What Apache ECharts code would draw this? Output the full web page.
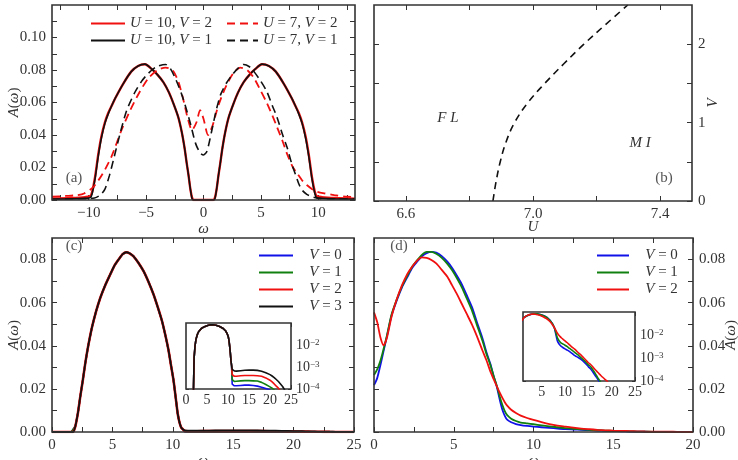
<!DOCTYPE html>
<html><head><meta charset="utf-8">
<script src="https://cdn.jsdelivr.net/npm/echarts@6/dist/echarts.min.js"></script>
<style>html,body{margin:0;padding:0;background:#fff}#c{width:738px;height:460px}</style>
</head><body><div id="c"></div><script>
// ---------- Panel (a): A(omega) for U=10 / U=7 ----------
const aW10 = [-13.2,-11.5,-10.3,-9.85,-9.7,-9.45,-9.17,-8.9,-8.6,-8.3,-8.0,-7.7,-7.0,-6.3,-5.7,-5.1,-4.5,-4.0,-3.5,-3.0,-2.6,-2.2,-1.9,-1.65,-1.45,-1.3,-1.15,-1.0,-0.87,-0.5,0,0.5,0.87,1.0,1.15,1.3,1.45,1.65,1.9,2.2,2.6,3.0,3.5,4.0,4.5,5.1,5.7,6.3,7.0,7.7,8.0,8.3,8.6,8.9,9.17,9.45,9.7,9.85,10.3,11.5,13.2];
const aU10V1 = [0.0005,0.0007,0.001,0.0015,0.004,0.013,0.027,0.038,0.047,0.053,0.058,0.0625,0.0715,0.079,0.0825,0.0836,0.0805,0.077,0.0725,0.066,0.059,0.051,0.042,0.032,0.022,0.015,0.007,0.001,0,0,0,0,0,0.001,0.007,0.015,0.022,0.032,0.042,0.051,0.059,0.066,0.0725,0.077,0.0805,0.0836,0.0825,0.079,0.0715,0.0625,0.058,0.053,0.047,0.038,0.027,0.013,0.004,0.0015,0.001,0.0007,0.0005];
const aU10V2 = [0.0008,0.0012,0.0018,0.0025,0.005,0.014,0.028,0.039,0.0475,0.0535,0.058,0.0625,0.0715,0.079,0.0825,0.0835,0.0805,0.077,0.0725,0.066,0.059,0.051,0.042,0.032,0.022,0.015,0.007,0.0015,0,0,0,0,0,0.0015,0.007,0.015,0.022,0.032,0.042,0.051,0.059,0.066,0.0725,0.077,0.0805,0.0835,0.0825,0.079,0.0715,0.0625,0.058,0.0535,0.0475,0.039,0.028,0.014,0.005,0.0025,0.0018,0.0012,0.0008];
const aW7V1 = [-13.2,-11,-9.5,-9.0,-8.6,-8.2,-7.8,-7.3,-6.7,-6.0,-5.4,-4.8,-4.1,-3.3,-2.9,-2.4,-1.9,-1.5,-1.1,-0.7,-0.3,0,0.3,0.7,1.1,1.5,2.0,2.5,3.0,3.5,4.0,4.4,5.0,5.5,6.0,6.4,6.9,7.3,7.7,8.0,8.3,8.6,9.0,9.4,10,11,13.2];
const aU7V1 = [0.0005,0.0008,0.0012,0.003,0.0065,0.015,0.026,0.040,0.055,0.066,0.073,0.078,0.082,0.0834,0.081,0.074,0.065,0.056,0.046,0.035,0.029,0.0277,0.030,0.042,0.055,0.065,0.072,0.077,0.081,0.0834,0.082,0.079,0.073,0.067,0.058,0.051,0.040,0.032,0.022,0.016,0.010,0.006,0.0035,0.0022,0.001,0.0007,0.0005];
const aW7V2 = [-13.2,-12,-11,-10.4,-9.6,-8.8,-8.0,-7.2,-6.4,-5.6,-4.8,-4.0,-3.3,-2.7,-2.2,-1.8,-1.4,-1.0,-0.6,-0.3,0.0,0.4,0.8,1.2,1.6,2.1,2.6,3.2,3.8,4.4,5.0,5.5,6.0,6.4,6.9,7.3,7.8,8.2,8.6,9.0,9.5,9.9,10.6,11.4,12.5,13.2];
const aU7V2 = [0.002,0.0025,0.003,0.004,0.008,0.016,0.027,0.042,0.055,0.066,0.075,0.080,0.0815,0.080,0.073,0.063,0.051,0.043,0.048,0.0553,0.050,0.040,0.046,0.056,0.064,0.072,0.078,0.0815,0.080,0.075,0.067,0.060,0.052,0.045,0.036,0.028,0.020,0.016,0.012,0.0092,0.0065,0.0051,0.004,0.003,0.002,0.0018];

// ---------- Panel (b): phase boundary ----------
const bU = [6.874,6.884,6.897,6.915,6.942,6.983,7.037,7.097,7.160,7.228,7.298];
const bV = [0,0.25,0.5,0.75,1.0,1.25,1.5,1.75,2.0,2.25,2.5];

// ---------- Panel (c) ----------
const cW = [0,1.0,1.6,1.75,1.93,2.15,2.34,2.55,2.75,3.0,3.31,3.65,4.0,4.4,4.82,5.15,5.51,5.85,6.15,6.45,6.75,7.15,7.58,8.0,8.4,8.75,9.1,9.4,9.65,9.85,10.06,10.25,10.4,10.55,10.7,10.85,11.0,11.5,12,13,14,15,16,17,18,19,20,20.5,21,21.5,22,22.5,23,23.5,24,25];
const cV0 = [1e-7,1e-7,1e-6,5e-5,0.0026,0.009,0.0164,0.024,0.0317,0.040,0.0486,0.056,0.0623,0.068,0.0731,0.077,0.080,0.0825,0.0834,0.0828,0.0815,0.0785,0.0746,0.0695,0.0639,0.058,0.0516,0.0445,0.0378,0.031,0.024,0.0155,0.0087,0.0045,0.002,0.0012,1.65e-4,1.4e-4,1.4e-4,1.45e-4,1.5e-4,1.5e-4,1.45e-4,1.35e-4,1.2e-4,1.05e-4,9e-5,6e-5,3e-5,1e-5,3e-6,1e-6,1e-7,1e-7,1e-7,1e-7];
const cV1 = [1e-7,1e-7,1e-6,5e-5,0.0026,0.009,0.0164,0.024,0.0317,0.040,0.0486,0.056,0.0623,0.068,0.0731,0.077,0.080,0.0825,0.0834,0.0828,0.0815,0.0785,0.0746,0.0695,0.0639,0.058,0.0516,0.0445,0.0378,0.031,0.024,0.0155,0.0087,0.0045,0.002,0.0012,2.65e-4,2.2e-4,2.25e-4,2.35e-4,2.4e-4,2.4e-4,2.35e-4,2.3e-4,2.0e-4,1.6e-4,1.25e-4,1.1e-4,9e-5,6e-5,3e-5,1e-5,1e-6,1e-7,1e-7,1e-7];
const cV2 = [1e-7,1e-7,1e-6,5e-5,0.0026,0.009,0.0164,0.024,0.0317,0.040,0.0486,0.056,0.0623,0.068,0.0731,0.077,0.080,0.0825,0.0834,0.0828,0.0815,0.0785,0.0746,0.0695,0.0639,0.058,0.0516,0.0445,0.0378,0.031,0.024,0.0155,0.0087,0.0045,0.002,0.0012,4.5e-4,3.8e-4,3.8e-4,4.0e-4,4.1e-4,4.1e-4,4.1e-4,4.0e-4,3.8e-4,3.2e-4,2.5e-4,2.1e-4,1.7e-4,1.35e-4,1.1e-4,8e-5,4e-5,1e-5,1e-6,1e-7];
const cV3 = [1e-7,1e-7,1e-6,5e-5,0.0026,0.009,0.0164,0.024,0.0317,0.040,0.0486,0.056,0.0623,0.068,0.0731,0.077,0.080,0.0825,0.0834,0.0828,0.0815,0.0785,0.0746,0.0695,0.0639,0.058,0.0516,0.0445,0.0378,0.031,0.024,0.0155,0.0087,0.0045,0.002,0.0012,7.8e-4,6.6e-4,6.5e-4,6.8e-4,7.1e-4,7.2e-4,7.2e-4,7.0e-4,6.4e-4,5.5e-4,4.5e-4,3.9e-4,3.3e-4,2.7e-4,2.2e-4,1.7e-4,1.3e-4,9e-5,4e-5,1e-6];

// ---------- Panel (d) ----------
const dW = [0,0.2,0.4,0.6,0.8,1.1,1.4,1.75,2.1,2.4,2.7,3.0,3.3,3.6,3.9,4.25,4.6,4.9,5.2,5.5,5.8,6.15,6.45,6.8,7.05,7.3,7.5,7.7,7.9,8.05,8.2,8.35,8.6,8.9,9.2,9.6,10,10.5,11,11.5,12,12.5,13,13.5,14,14.5,15,15.5,16,16.5,17,17.5,18,18.5,19,19.5,20];
const dV0 = [0.0217,0.025,0.031,0.0375,0.044,0.054,0.0605,0.067,0.072,0.0762,0.079,0.0815,0.083,0.0836,0.0832,0.0816,0.079,0.0761,0.0725,0.0686,0.0637,0.0578,0.051,0.0435,0.037,0.0315,0.026,0.021,0.0145,0.0103,0.0075,0.0057,0.0045,0.0037,0.0032,0.0028,0.0025,0.0022,0.0019,0.0016,0.0013,0.00115,0.001,0.00085,0.0007,0.00055,0.00042,0.00033,0.00024,0.00017,0.00012,8e-5,5e-5,3e-5,1.5e-5,8e-6,4e-6];
const dV1 = [0.0264,0.029,0.033,0.0385,0.0445,0.0545,0.061,0.0675,0.0727,0.0768,0.0797,0.0822,0.0836,0.0836,0.0827,0.0808,0.078,0.075,0.0713,0.0672,0.0622,0.0562,0.0497,0.0423,0.0362,0.031,0.026,0.0215,0.016,0.0125,0.0097,0.0078,0.0062,0.0051,0.0044,0.004,0.0036,0.0031,0.0026,0.0022,0.0018,0.0015,0.00125,0.001,0.00082,0.00065,0.0005,0.00042,0.0003,0.00021,0.00014,1e-4,6.5e-5,4e-5,2e-5,1e-5,5e-6];
const dV2 = [0.0555,0.051,0.044,0.0402,0.0435,0.0535,0.061,0.068,0.0735,0.0768,0.0795,0.081,0.0808,0.0798,0.0782,0.0752,0.072,0.068,0.064,0.0595,0.055,0.0497,0.0445,0.0378,0.0333,0.028,0.0245,0.0212,0.018,0.0158,0.0138,0.0122,0.0103,0.0088,0.0076,0.0065,0.0056,0.0046,0.0037,0.003,0.0025,0.002,0.0016,0.0013,0.00102,0.0008,0.00062,0.00052,0.0004,0.00031,0.00024,0.00019,0.00015,0.00012,1e-4,7e-5,5e-5];

// ---------- Tick values / labels ----------
const aXTicks = [-12.5,-10,-7.5,-5,-2.5,0,2.5,5,7.5,10,12.5];
const aXLabels = [-10,-5,0,5,10];
const aYTicks = [0,0.01,0.02,0.03,0.04,0.05,0.06,0.07,0.08,0.09,0.1,0.11];
const aYLabels = [0,0.02,0.04,0.06,0.08,0.1];
const bXTicks = [6.6,6.8,7.0,7.2,7.4];
const bXLabels = [6.6,7.0,7.4];
const bYTicks = [0,0.5,1,1.5,2];
const bYLabels = [0,1,2];
const cXTicks = [0,2.5,5,7.5,10,12.5,15,17.5,20,22.5,25];
const cXLabels = [0,5,10,15,20,25];
const cdYTicks = [0,0.01,0.02,0.03,0.04,0.05,0.06,0.07,0.08];
const cdYLabels = [0,0.02,0.04,0.06,0.08];
const dXTicks = [0,2.5,5,7.5,10,12.5,15,17.5,20];
const dXLabels = [0,5,10,15,20];
const icXLabels = [0,5,10,15,20,25];
const idXLabels = [5,10,15,20,25];
const logTicks = [1e-4,2e-4,3e-4,4e-4,5e-4,6e-4,7e-4,8e-4,9e-4,1e-3,2e-3,3e-3,4e-3,5e-3,6e-3,7e-3,8e-3,9e-3,1e-2,2e-2,3e-2,4e-2,5e-2,6e-2,7e-2,8e-2,9e-2];
const logMajor = [1e-4,1e-3,1e-2];
const logLabels = [1e-4,1e-3,1e-2];

// ---------- Styling ----------
const FONT = 'Liberation Serif';
const TXT = '#333';
const FRAME = '#333';
const RED = '#f01010', BLACK = '#111', BLUE = '#1010e8', GREEN = '#108010';
const rich = {
  i: {fontStyle: 'italic', fontFamily: FONT, fontSize: 15, color: TXT},
  s: {fontFamily: FONT, fontSize: 9, color: TXT, verticalAlign: 'top', lineHeight: 14}
};

function ax(type, grid, pos, min, max, ticks, labels, fmt, extra) {
  const o = {
    type: type, gridIndex: grid, position: pos, min: min, max: max,
    axisLine: {show: false, onZero: false}, splitLine: {show: false},
    axisTick: {show: true, inside: true, length: 5, lineStyle: {color: FRAME, width: 1}, customValues: ticks},
    axisLabel: labels ? {show: true, customValues: labels, formatter: fmt, color: TXT, fontFamily: FONT, fontSize: 15, margin: 6, rich: rich} : {show: false},
    nameMoveOverlap: false,
    nameTextStyle: {fontFamily: FONT, fontSize: 15, color: TXT, rich: rich}
  };
  if (type === 'log') o.logBase = 10;
  return Object.assign(o, extra || {});
}
const f2 = v => v.toFixed(2);
const fInt = v => String(v);
const fMinus = v => (v < 0 ? '\u2212' + Math.abs(v) : String(v));
const f1 = v => v.toFixed(1);
const fLog = v => '10{s|\u2212' + Math.round(-Math.log10(v)) + '}';

const grids = [
  {left: 52, top: 5, width: 303, height: 195},
  {left: 374, top: 5, width: 318, height: 196},
  {left: 52, top: 238, width: 302, height: 194},
  {left: 374, top: 238, width: 319, height: 194},
  {left: 186, top: 323, width: 105, height: 66},
  {left: 523, top: 312, width: 112, height: 69}
].map(g => Object.assign(g, {show: true, borderColor: FRAME, borderWidth: 1.6, backgroundColor: 'rgba(0,0,0,0)', z: 3, containLabel: false, outerBoundsMode: 'none'}));
grids[4].backgroundColor = '#fff'; grids[5].backgroundColor = '#fff';

const logLabel = {show: true, customValues: logLabels, formatter: fLog, color: TXT, fontFamily: FONT, fontSize: 14, margin: 5, rich: rich};
const xAxis = [
  ax('value', 0, 'bottom', -13.2, 13.2, aXTicks, aXLabels, fMinus, {name: '{i|\u03c9}', nameLocation: 'middle', nameGap: 22}),
  ax('value', 0, 'top', -13.2, 13.2, aXTicks, null),
  ax('value', 1, 'bottom', 6.5, 7.5, bXTicks, bXLabels, f1, {name: '{i|U}', nameLocation: 'middle', nameGap: 19}),
  ax('value', 1, 'top', 6.5, 7.5, bXTicks, null),
  ax('value', 2, 'bottom', 0, 25, cXTicks, cXLabels, fInt, {name: '{i|\u03c9}', nameLocation: 'middle', nameGap: 22}),
  ax('value', 2, 'top', 0, 25, cXTicks, null),
  ax('value', 3, 'bottom', 0, 20, dXTicks, dXLabels, fInt, {name: '{i|\u03c9}', nameLocation: 'middle', nameGap: 22}),
  ax('value', 3, 'top', 0, 20, dXTicks, null),
  ax('value', 4, 'bottom', 0, 25, icXLabels, icXLabels, fInt),
  ax('value', 4, 'top', 0, 25, icXLabels, null),
  ax('value', 5, 'bottom', 1, 25, idXLabels, idXLabels, fInt),
  ax('value', 5, 'top', 1, 25, idXLabels, null)
];
xAxis[8].axisLabel.fontSize = 14; xAxis[10].axisLabel.fontSize = 14;
xAxis[8].axisLabel.margin = 4; xAxis[10].axisLabel.margin = 4;
[8, 9, 10, 11].forEach(i => xAxis[i].axisTick.length = 4);
const Aname = '{i|A}({i|\u03c9})';
const yAxis = [
  ax('value', 0, 'left', 0, 0.12, aYTicks, aYLabels, f2, {name: Aname, nameLocation: 'middle', nameGap: 30, nameRotate: 90}),
  ax('value', 0, 'right', 0, 0.12, aYTicks, null),
  ax('value', 1, 'right', 0, 2.5, bYTicks, bYLabels, fInt, {name: '{i|V}', nameLocation: 'middle', nameGap: 14, nameRotate: 90}),
  ax('value', 1, 'left', 0, 2.5, bYTicks, null),
  ax('value', 2, 'left', 0, 0.09, cdYTicks, cdYLabels, f2, {name: Aname, nameLocation: 'middle', nameGap: 30, nameRotate: 90}),
  ax('value', 2, 'right', 0, 0.09, cdYTicks, null),
  ax('value', 3, 'right', 0, 0.09, cdYTicks, cdYLabels, f2, {name: Aname, nameLocation: 'middle', nameGap: 31, nameRotate: 90}),
  ax('value', 3, 'left', 0, 0.09, cdYTicks, null),
  ax('log', 4, 'right', 1e-4, 0.1, logTicks, logLabels, fLog, {axisLabel: logLabel}),
  ax('log', 4, 'left', 1e-4, 0.1, logMajor, null),
  ax('log', 5, 'right', 1e-4, 0.1, logTicks, logLabels, fLog, {axisLabel: logLabel}),
  ax('log', 5, 'left', 1e-4, 0.1, logMajor, null)
];
[8, 9, 10, 11].forEach(i => yAxis[i].axisTick.length = 3);

function line(name, xs, ys, xi, yi, color, width, dash, smooth) {
  return {
    type: 'line', name: name, xAxisIndex: xi, yAxisIndex: yi,
    data: xs.map((x, i) => [x, ys[i]]),
    showSymbol: false, symbol: 'none', smooth: smooth === undefined ? 0.25 : smooth,
    lineStyle: {color: color, width: width, type: dash || 'solid'},
    itemStyle: {color: color}, emphasis: {disabled: true}, clip: true, z: 2
  };
}
const dashA = [8, 5];
const series = [
  line('aU10V2', aW10, aU10V2, 0, 0, RED, 2.4),
  line('aU10V1', aW10, aU10V1, 0, 0, BLACK, 1.6),
  line('aU7V2', aW7V2, aU7V2, 0, 0, RED, 1.8, dashA),
  line('aU7V1', aW7V1, aU7V1, 0, 0, BLACK, 1.6, dashA),
  line('b', bU, bV, 2, 2, BLACK, 1.6, [7, 5], 0.4),
  line('c0', cW, cV0, 4, 4, BLUE, 1.8, null, false),
  line('c1', cW, cV1, 4, 4, GREEN, 1.8, null, false),
  line('c2', cW, cV2, 4, 4, RED, 2.6, null, 0.2),
  line('c3', cW, cV3, 4, 4, BLACK, 1.8, null, 0.2),
  line('d0', dW, dV0, 6, 6, BLUE, 1.8),
  line('d1', dW, dV1, 6, 6, GREEN, 1.8),
  line('d2', dW, dV2, 6, 6, RED, 1.8),
  line('ic0', cW, cV0, 8, 8, BLUE, 1.6, null, false),
  line('ic1', cW, cV1, 8, 8, GREEN, 1.6, null, false),
  line('ic2', cW, cV2, 8, 8, RED, 1.6, null, false),
  line('ic3', cW, cV3, 8, 8, BLACK, 1.6, null, false),
  line('id0', dW, dV0, 10, 10, BLUE, 1.6),
  line('id1', dW, dV1, 10, 10, GREEN, 1.6),
  line('id2', dW, dV2, 10, 10, RED, 1.6)
];
series.slice(12).forEach(s => s.z = 5);

const legendLabels = {
  aU10V2: '{i|U} = 10, {i|V} = 2', aU10V1: '{i|U} = 10, {i|V} = 1',
  aU7V2: '{i|U} = 7, {i|V} = 2', aU7V1: '{i|U} = 7, {i|V} = 1',
  c0: '   {i|V} = 0', c1: '   {i|V} = 1', c2: '   {i|V} = 2', c3: '   {i|V} = 3',
  d0: '   {i|V} = 0', d1: '   {i|V} = 1', d2: '   {i|V} = 2'
};
function legend(data, left, top, w) {
  return {
    data: data, left: left, top: top, orient: 'vertical', itemWidth: w, itemHeight: 12, itemGap: 2,
    selectedMode: false, padding: 0,
    itemStyle: {opacity: 0, borderWidth: 0},
    formatter: n => legendLabels[n],
    textStyle: {fontFamily: FONT, fontSize: 15, color: TXT, rich: rich}
  };
}
const legends = [
  legend(['aU10V2', 'aU10V1'], 90, 16, 34),
  legend(['aU7V2', 'aU7V1'], 226, 16, 31),
  legend(['c0', 'c1', 'c2', 'c3'], 258, 248, 34),
  legend(['d0', 'd1', 'd2'], 596, 248, 32)
];

function txt(t, x, y, italic) {
  return {type: 'text', x: x, y: y, z: 10, style: {text: t, fontFamily: FONT, fontSize: 15, fontStyle: italic ? 'italic' : 'normal', fill: italic ? TXT : '#555', align: 'center', verticalAlign: 'middle'}};
}
const graphic = [
  txt('(a)', 74, 178), txt('(b)', 664, 178), txt('(c)', 74, 246), txt('(d)', 399, 246),
  txt('F L', 448, 118, true), txt('M I', 640, 143, true)
];

const chart = echarts.init(document.getElementById('c'), null, {renderer: 'canvas'});
chart.setOption({
  animation: false, backgroundColor: '#fff',
  grid: grids, xAxis: xAxis, yAxis: yAxis, series: series, legend: legends, graphic: graphic
});
</script></body></html>
